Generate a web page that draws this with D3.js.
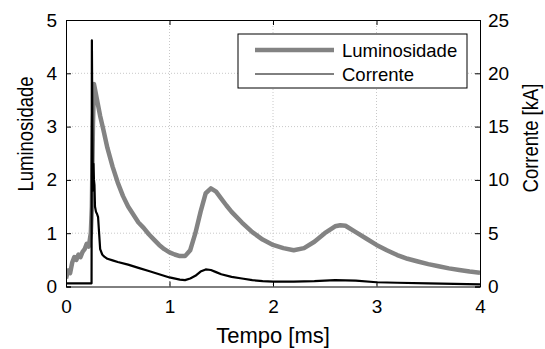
<!DOCTYPE html>
<html>
<head>
<meta charset="utf-8">
<script src="https://cdn.jsdelivr.net/npm/d3@7"></script>
<style>
  body { margin: 0; background: #fff; }
  text { font-family: "Liberation Sans", Arial, sans-serif; fill: #000; }
</style>
</head>
<body>
<div id="chart"></div>
<script>
'use strict';

// luminosity (left axis)
var lumT = [0, 0.02, 0.04, 0.06, 0.08, 0.10, 0.12, 0.14, 0.16, 0.18, 0.20, 0.22, 0.24, 0.25, 0.26, 0.27, 0.28, 0.30, 0.33, 0.36,
  0.40, 0.45, 0.50, 0.55, 0.60, 0.65, 0.70, 0.75, 0.80, 0.85, 0.90, 0.95, 1.00, 1.05, 1.10, 1.15, 1.20, 1.25, 1.30, 1.35,
  1.40, 1.45, 1.50, 1.55, 1.60, 1.70, 1.80, 1.90, 2.00, 2.10, 2.20, 2.30, 2.40, 2.50, 2.60, 2.65, 2.70, 2.80, 2.90, 3.00,
  3.10, 3.20, 3.30, 3.40, 3.50, 3.60, 3.70, 3.80, 3.90, 4.00];
var lumV = [0.15, 0.3, 0.25, 0.45, 0.55, 0.5, 0.6, 0.55, 0.65, 0.7, 0.8, 0.75, 1.0, 1.5, 3.0, 3.8, 3.7, 3.5, 3.2, 2.95,
  2.6, 2.25, 1.95, 1.7, 1.5, 1.35, 1.2, 1.1, 0.98, 0.88, 0.78, 0.7, 0.64, 0.6, 0.57, 0.57, 0.68, 1.0, 1.4, 1.75,
  1.84, 1.78, 1.65, 1.52, 1.4, 1.2, 1.02, 0.88, 0.78, 0.72, 0.68, 0.72, 0.84, 1.0, 1.13, 1.15, 1.14, 1.02, 0.9, 0.78,
  0.68, 0.59, 0.52, 0.47, 0.42, 0.38, 0.34, 0.31, 0.28, 0.26];

// current in kA (right axis)
var curT = [0, 0.05, 0.1, 0.15, 0.2, 0.247, 0.25, 0.255, 0.26, 0.265, 0.27, 0.275, 0.28, 0.29, 0.30, 0.31, 0.32, 0.33, 0.35, 0.37,
  0.40, 0.45, 0.50, 0.60, 0.70, 0.80, 0.90, 1.00, 1.10, 1.15, 1.20, 1.25, 1.30, 1.35, 1.40, 1.45, 1.50, 1.60, 1.70, 1.80,
  1.90, 2.00, 2.20, 2.40, 2.60, 2.80, 3.00, 3.20, 3.50, 4.00];
var curV = [0.3, 0.3, 0.3, 0.3, 0.3, 0.3, 23.1, 15, 9, 11.5, 10, 9.5, 7.5, 7.0, 6.8, 6.5, 5.0, 3.5, 3.0, 2.8,
  2.6, 2.45, 2.3, 2.05, 1.75, 1.45, 1.15, 0.85, 0.65, 0.6, 0.75, 1.0, 1.4, 1.6, 1.55, 1.35, 1.15, 0.9, 0.75, 0.6,
  0.5, 0.45, 0.45, 0.5, 0.6, 0.55, 0.4, 0.35, 0.3, 0.2];

var xTicks = [0, 1, 2, 3, 4];
var yTicksL = [0, 1, 2, 3, 4, 5];
var yTicksR = [0, 5, 10, 15, 20, 25];
var seriesNames = ['Luminosidade', 'Corrente'];

var W = 545, H = 349;
var margin = {top: 20, right: 65, bottom: 62.5, left: 66};
var w = W - margin.left - margin.right;
var h = H - margin.top - margin.bottom;

var svg = d3.select('#chart').append('svg')
  .attr('width', W)
  .attr('height', H);

var g = svg.append('g')
  .attr('transform', 'translate(' + margin.left + ',' + margin.top + ')');

var x = d3.scaleLinear().domain([0, 4]).range([0, w]);
var yL = d3.scaleLinear().domain([0, 5]).range([h, 0]);
var yR = d3.scaleLinear().domain([0, 25]).range([h, 0]);

// grid
g.append('g').selectAll('line')
  .data(xTicks.slice(1, -1))
  .enter().append('line')
  .attr('x1', function(d) { return x(d); })
  .attr('x2', function(d) { return x(d); })
  .attr('y1', 0).attr('y2', h)
  .attr('stroke', '#c8c8c8').attr('stroke-dasharray', '1,2');

g.append('g').selectAll('line')
  .data(yTicksL.slice(1, -1))
  .enter().append('line')
  .attr('x1', 0).attr('x2', w)
  .attr('y1', function(d) { return yL(d); })
  .attr('y2', function(d) { return yL(d); })
  .attr('stroke', '#c8c8c8').attr('stroke-dasharray', '1,2');

g.append('clipPath').attr('id', 'clip')
  .append('rect').attr('width', w).attr('height', h);

var lumLine = d3.line()
  .x(function(d, i) { return x(lumT[i]); })
  .y(function(d) { return yL(d); });

var curLine = d3.line()
  .x(function(d, i) { return x(curT[i]); })
  .y(function(d) { return yR(d); });

g.append('path')
  .attr('clip-path', 'url(#clip)')
  .attr('d', lumLine(lumV))
  .attr('fill', 'none')
  .attr('stroke', '#838383')
  .attr('stroke-width', 4.5)
  .attr('stroke-linejoin', 'round');

g.append('path')
  .attr('clip-path', 'url(#clip)')
  .attr('d', curLine(curV))
  .attr('fill', 'none')
  .attr('stroke', '#000')
  .attr('stroke-width', 2.2)
  .attr('stroke-linejoin', 'round');

// axes (ticks pointing inward like matlab)
var fs = '19px';
var xAxis = g.append('g').attr('transform', 'translate(0,' + h + ')')
  .call(d3.axisBottom(x).tickValues(xTicks).tickSize(-5).tickPadding(13.5).tickFormat(d3.format('d')));
var xAxisTop = g.append('g')
  .call(d3.axisTop(x).tickValues(xTicks).tickSize(-5).tickFormat(''));
var yAxisL = g.append('g')
  .call(d3.axisLeft(yL).tickValues(yTicksL).tickSize(-5).tickPadding(9).tickFormat(d3.format('d')));
var yAxisR = g.append('g').attr('transform', 'translate(' + w + ',0)')
  .call(d3.axisRight(yR).tickValues(yTicksR).tickSize(-5).tickPadding(8).tickFormat(d3.format('d')));

[xAxis, xAxisTop, yAxisL, yAxisR].forEach(function(a) {
  a.selectAll('.domain').attr('stroke', '#000').attr('stroke-width', 1);
  a.selectAll('.tick line').attr('stroke', '#000');
  a.selectAll('text').style('font-size', fs).style('font-family', '"Liberation Sans", Arial, sans-serif');
});

// axis titles
svg.append('text')
  .attr('x', margin.left + w / 2)
  .attr('y', 343)
  .attr('text-anchor', 'middle')
  .style('font-size', '22px')
  .text('Tempo [ms]');

svg.append('text')
  .attr('transform', 'translate(33,134) rotate(-90) scale(1,1.2)')
  .attr('text-anchor', 'middle')
  .style('font-size', '18.5px')
  .text('Luminosidade');

svg.append('text')
  .attr('transform', 'translate(538,138) rotate(-90) scale(1,1.2)')
  .attr('text-anchor', 'middle')
  .style('font-size', '18.5px')
  .text('Corrente [kA]');

// legend
var lg = svg.append('g').attr('transform', 'translate(238,34)');
lg.append('rect')
  .attr('width', 229).attr('height', 54)
  .attr('fill', '#fff').attr('stroke', '#000').attr('stroke-width', 1);

var legendItems = lg.selectAll('.item')
  .data(seriesNames)
  .enter().append('g')
  .attr('class', 'item')
  .attr('transform', function(d, i) { return 'translate(0,' + (16 + i * 24) + ')'; });

legendItems.append('line')
  .attr('x1', 17).attr('x2', 96)
  .attr('stroke', function(d, i) { return i === 0 ? '#838383' : '#000'; })
  .attr('stroke-width', function(d, i) { return i === 0 ? 4.5 : 1; });

legendItems.append('text')
  .attr('x', 104).attr('y', 6.5)
  .style('font-size', '18.5px')
  .text(function(d) { return d; });
</script>
</body>
</html>
